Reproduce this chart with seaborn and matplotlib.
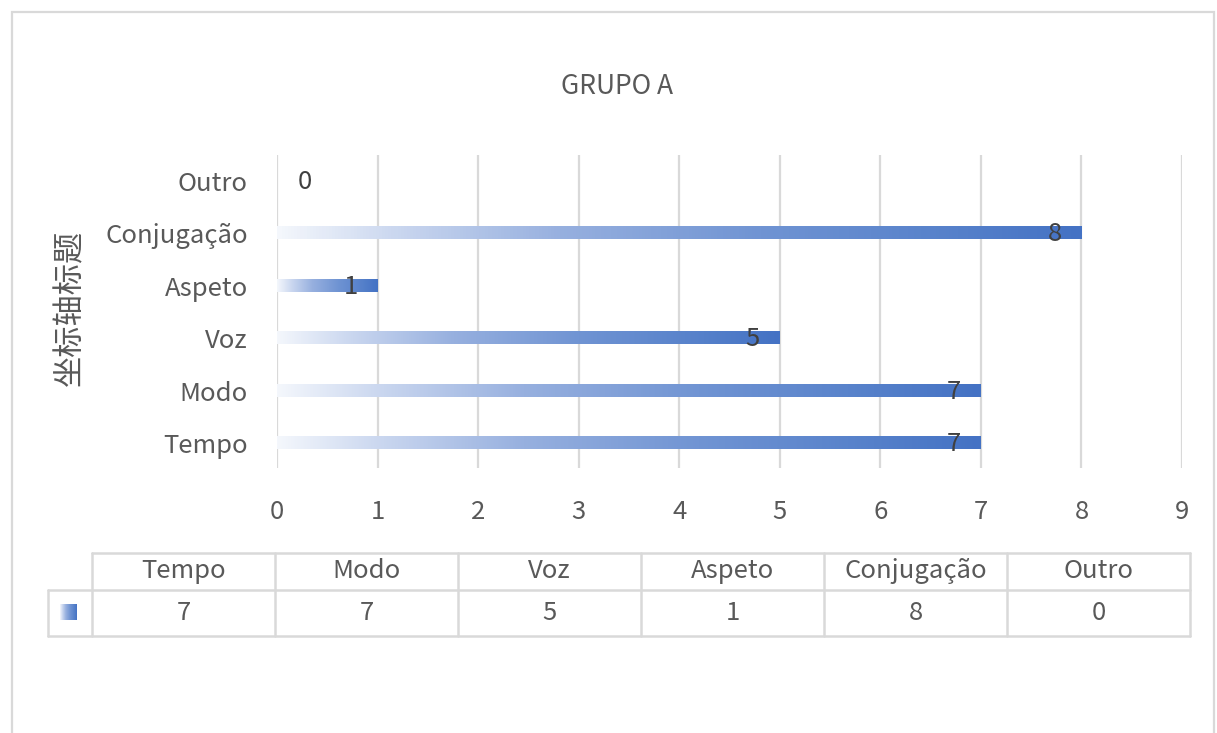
import numpy as np
import matplotlib
matplotlib.use("Agg")
import matplotlib.pyplot as plt
from matplotlib.lines import Line2D
from matplotlib.patches import Rectangle
from matplotlib.colors import LinearSegmentedColormap
import seaborn as sns

# ---- data ----
categories = ["Tempo", "Modo", "Voz", "Aspeto", "Conjugação", "Outro"]
values = [7, 7, 5, 1, 8, 0]
x_ticks = [0, 1, 2, 3, 4, 5, 6, 7, 8, 9]
title = "GRUPO A"
y_title = "坐标轴标题"

W, H = 1217, 733
TXT = "#595959"
GRID = "#D9D9D9"
BLUE = "#4472C4"
FS = 18.5

sns.set_theme(style="white")
plt.rcParams["font.family"] = ["Noto Sans CJK SC", "DejaVu Sans"]

fig = plt.figure(figsize=(W / 100, H / 100), dpi=100)
fig.patch.set_facecolor("white")

def fx(px):
    return px / W

def fy(py):
    return 1 - py / H

ax = fig.add_axes([fx(277), fy(468), (1182 - 277) / W, (468 - 155) / H])

order = categories[::-1]  # top to bottom: Outro ... Tempo
sns.barplot(x=values, y=categories, order=order, orient="h", width=0.23,
            color=BLUE, ax=ax, zorder=3)

# gradient fill for each bar
cmap = LinearSegmentedColormap.from_list(
    "grad", [(0.0, "#F4F7FC"), (0.15, "#C9D6EF"), (0.35, "#97B0DF"),
             (0.6, "#7094D3"), (0.85, "#5580CA"), (1.0, BLUE)], N=256)
grad = np.linspace(0, 1, 256).reshape(1, -1)
for p in ax.patches:
    x0, y0, w, h = p.get_x(), p.get_y(), p.get_width(), p.get_height()
    p.set_facecolor("none")
    p.set_edgecolor("none")
    if w > 0:
        ax.imshow(grad, extent=[x0, x0 + w, y0 + h, y0], aspect="auto",
                  cmap=cmap, zorder=3, interpolation="bilinear")

ax.set_xlim(0, 9)
ax.set_ylim(5 + 0.477, -0.496)
ax.set_xticks(x_ticks)
ax.set_xticklabels([str(t) for t in x_ticks])
ax.grid(axis="x", color=GRID, lw=1.6, zorder=0)
ax.grid(axis="y", visible=False)
ax.set_axisbelow(True)
for s in ax.spines.values():
    s.set_visible(False)
ax.tick_params(axis="both", length=0, colors=TXT, labelsize=FS)
ax.tick_params(axis="x", pad=22)
ax.tick_params(axis="y", pad=21)
ax.set_xlabel("")
ax.set_ylabel("")

# data labels
pos = {c: i for i, c in enumerate(order)}
for c, v in zip(categories, values):
    off = -27 if v > 0 else 28
    ax.annotate(str(v), xy=(v, pos[c]), xytext=(off, -1),
                textcoords="offset pixels", ha="center", va="center",
                fontsize=FS, color="#404040", zorder=5)

# title and axis title
fig.text(fx(617), fy(87), title, ha="center", va="center", fontsize=19, color=TXT)
fig.text(fx(70), fy(308), y_title, ha="center", va="center", rotation=90,
         fontsize=22.5, color=TXT)

# outer chart border
fig.add_artist(Rectangle((fx(12), fy(745)), fx(1214) - fx(12), fy(12) - fy(745),
                         transform=fig.transFigure, fill=False,
                         edgecolor=GRID, lw=1.6))

# data table
col_x = [92, 275, 458, 641, 824, 1007, 1190]
y_top, y_mid, y_bot = 553, 590, 636
key_left = 48

def hline(x1, x2, y):
    fig.add_artist(Line2D([fx(x1), fx(x2)], [fy(y), fy(y)],
                          transform=fig.transFigure, color=GRID, lw=1.8))

def vline(x, y1, y2):
    fig.add_artist(Line2D([fx(x), fx(x)], [fy(y1), fy(y2)],
                          transform=fig.transFigure, color=GRID, lw=1.8))

hline(col_x[0], col_x[-1], y_top)
hline(key_left, col_x[-1], y_mid)
hline(key_left, col_x[-1], y_bot)
for x in col_x:
    vline(x, y_top, y_bot)
vline(key_left, y_mid, y_bot)

for i, (c, v) in enumerate(zip(categories, values)):
    cx = (col_x[i] + col_x[i + 1]) / 2
    fig.text(fx(cx), fy((y_top + y_mid) / 2), c, ha="center", va="center",
             fontsize=FS, color=TXT)
    fig.text(fx(cx), fy((y_mid + y_bot) / 2), str(v), ha="center", va="center",
             fontsize=FS, color=TXT)

# legend key in table
kax = fig.add_axes([fx(60), fy(620), (77 - 60) / W, (620 - 604) / H])
kax.imshow(grad, aspect="auto", cmap=cmap, interpolation="bilinear")
kax.set_axis_off()

fig.savefig("out.png", dpi=100, facecolor="white")
